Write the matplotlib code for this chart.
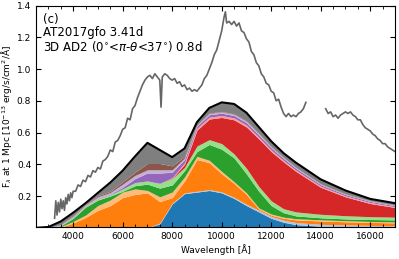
import numpy as np
import matplotlib
matplotlib.use("Agg")
import matplotlib.pyplot as plt
from matplotlib.ticker import MultipleLocator

# model grid [Angstrom]
wl = [2500, 3000, 3500, 4000, 4500, 5000, 5500, 6000, 6500, 7000, 7500, 8000, 8500,
      9000, 9500, 10000, 10500, 11000, 11500, 12000, 12500, 13000, 14000, 15000, 16000, 17000]

# cumulative tops of each stacked component (bottom -> top)
blue_top = [0, 0, 0, 0, 0, 0, 0, 0, 0, 0, 0.025, 0.15, 0.215, 0.225, 0.235, 0.22, 0.185,
            0.14, 0.10, 0.06, 0.035, 0.02, 0.01, 0.006, 0.004, 0.003]
lblue_top = [0, 0, 0, 0, 0, 0, 0, 0, 0, 0, 0.03, 0.155, 0.22, 0.23, 0.24, 0.226, 0.192,
             0.148, 0.11, 0.072, 0.048, 0.033, 0.022, 0.018, 0.015, 0.013]
orange_top = [0, 0, 0.004, 0.03, 0.065, 0.11, 0.14, 0.19, 0.21, 0.22, 0.165, 0.19, 0.295,
              0.43, 0.41, 0.34, 0.28, 0.21, 0.118, 0.08, 0.06, 0.05, 0.043, 0.038, 0.034, 0.031]
lorange_top = [0, 0, 0.007, 0.04, 0.08, 0.14, 0.175, 0.225, 0.245, 0.235, 0.195, 0.225, 0.32,
               0.45, 0.425, 0.355, 0.29, 0.22, 0.125, 0.087, 0.067, 0.057, 0.05, 0.045, 0.04, 0.037]
green_top = [0, 0, 0.012, 0.06, 0.13, 0.175, 0.2, 0.23, 0.265, 0.275, 0.25, 0.27, 0.36,
             0.48, 0.525, 0.495, 0.44, 0.34, 0.23, 0.14, 0.095, 0.075, 0.063, 0.056, 0.052, 0.05]
lgreen_top = [0, 0, 0.014, 0.064, 0.135, 0.182, 0.208, 0.245, 0.285, 0.295, 0.28, 0.31, 0.38,
              0.515, 0.555, 0.53, 0.465, 0.375, 0.26, 0.17, 0.12, 0.1, 0.085, 0.076, 0.07, 0.067]
red_top = [0, 0, 0.014, 0.064, 0.135, 0.182, 0.208, 0.245, 0.285, 0.295, 0.28, 0.313, 0.40,
           0.615, 0.685, 0.695, 0.68, 0.635, 0.56, 0.48, 0.415, 0.355, 0.255, 0.195, 0.153, 0.128]
lred_top = [0, 0, 0.014, 0.064, 0.135, 0.182, 0.208, 0.245, 0.285, 0.295, 0.28, 0.316, 0.41,
            0.627, 0.697, 0.707, 0.692, 0.647, 0.571, 0.49, 0.424, 0.363, 0.262, 0.201, 0.159, 0.133]
purple_top = [0, 0, 0.016, 0.066, 0.138, 0.185, 0.212, 0.255, 0.31, 0.345, 0.345, 0.35, 0.43,
              0.64, 0.712, 0.722, 0.707, 0.662, 0.585, 0.503, 0.436, 0.374, 0.271, 0.209, 0.166, 0.139]
lpurple_top = [0, 0, 0.02, 0.072, 0.144, 0.195, 0.222, 0.275, 0.33, 0.365, 0.365, 0.365, 0.44,
               0.646, 0.72, 0.73, 0.715, 0.67, 0.592, 0.509, 0.441, 0.379, 0.275, 0.212, 0.169, 0.142]
brown_top = [0, 0, 0.022, 0.076, 0.148, 0.202, 0.23, 0.29, 0.35, 0.405, 0.405, 0.39, 0.45,
             0.65, 0.723, 0.733, 0.718, 0.673, 0.595, 0.512, 0.444, 0.381, 0.277, 0.214, 0.171, 0.144]
total = [0, 0.005, 0.04, 0.095, 0.155, 0.22, 0.285, 0.36, 0.45, 0.535, 0.49, 0.445, 0.50,
         0.665, 0.755, 0.79, 0.78, 0.725, 0.635, 0.545, 0.47, 0.41, 0.305, 0.235, 0.182, 0.155]

# observed AT2017gfo spectrum (gap = telluric band)
obs_wl = [3250, 3300, 3350, 3400, 3450, 3500, 3550, 3600, 3650, 3700, 3750, 3800, 3850, 3900,
          3950, 4000, 4100, 4200, 4300, 4400, 4500, 4600, 4700, 4800, 4900, 5000, 5100, 5200,
          5300, 5400, 5500, 5600, 5700, 5800, 5900, 6000, 6100, 6200, 6300, 6400, 6500, 6600,
          6700, 6800, 6900, 7000, 7100, 7200, 7300, 7400, 7500, 7550, 7600, 7700, 7800, 7900,
          8000, 8100, 8200, 8300, 8400, 8500, 8600, 8700, 8800, 8900, 9000, 9100, 9200, 9300,
          9400, 9500, 9600, 9700, 9800, 9900, 10000, 10100, 10150, 10200, 10300, 10400, 10500,
          10600, 10700, 10800, 10900, 11000, 11100, 11200, 11300, 11400, 11500, 11600, 11700,
          11800, 11900, 12000, 12100, 12200, 12300, 12400, 12500, 12600, 12700, 12800, 12900,
          13000, 13100, 13200, 13300, 13400, 13700, 14200, 14300, 14400, 14500, 14600, 14700,
          14800, 14900, 15000, 15100, 15200, 15300, 15400, 15500, 15600, 15700, 15800, 15900,
          16000, 16100, 16200, 16300, 16400, 16500, 16600, 16700, 16800, 16900, 17000]
obs_flux = [0.06, 0.17, 0.08, 0.16, 0.10, 0.18, 0.12, 0.17, 0.11, 0.19, 0.15, 0.21, 0.17, 0.22,
            0.19, 0.23, 0.23, 0.27, 0.26, 0.30, 0.29, 0.33, 0.32, 0.36, 0.35, 0.38, 0.37, 0.42,
            0.43, 0.45, 0.49, 0.48, 0.54, 0.55, 0.58, 0.62, 0.63, 0.69, 0.68, 0.75, 0.77, 0.82,
            0.86, 0.90, 0.93, 0.95, 0.96, 0.94, 0.97, 0.95, 0.93, 0.76, 0.95, 0.97, 0.96, 0.94,
            0.93, 0.94, 0.91, 0.92, 0.89, 0.90, 0.87, 0.88, 0.86, 0.87, 0.86, 0.88, 0.90, 0.94,
            0.96, 1.00, 1.04, 1.09, 1.12, 1.18, 1.24, 1.33, 1.36, 1.29, 1.30, 1.28, 1.30,
            1.27, 1.29, 1.24, 1.23, 1.19, 1.17, 1.11, 1.09, 1.04, 1.02, 0.97, 0.95,
            0.91, 0.90, 0.86, 0.85, 0.80, 0.81, 0.76, 0.72, 0.70, 0.72, 0.70, 0.71,
            0.70, 0.72, 0.73, 0.75, 0.79, np.nan, 0.75, 0.72, 0.73, 0.70, 0.71, 0.69,
            0.71, 0.72, 0.73, 0.72, 0.73, 0.71, 0.70, 0.68, 0.68, 0.65, 0.63, 0.62,
            0.61, 0.59, 0.58, 0.56, 0.55, 0.53, 0.53, 0.51, 0.50, 0.49, 0.48]

layers = [blue_top, lblue_top, orange_top, lorange_top, green_top, lgreen_top,
          red_top, lred_top, purple_top, lpurple_top, brown_top, total]
colors = ["#1f77b4", "#aec7e8", "#ff7f0e", "#ffbb78", "#2ca02c", "#98df8a",
          "#d62728", "#ff9896", "#9467bd", "#c5b0d5", "#8c564b", "#7f7f7f"]

fig = plt.figure(figsize=(3.99, 2.59), dpi=100)
ax = fig.add_axes([36 / 399, 1 - 227 / 259, 359 / 399, 221.5 / 259])

lower = np.zeros(len(wl))
for top, c in zip(layers, colors):
    ax.fill_between(wl, lower, top, color=c, lw=0)
    lower = np.array(top)

ax.plot(wl, total, color="k", lw=1.5)
ax.plot(obs_wl, obs_flux, color="#666666", lw=1.2)

ax.set_xlim(2500, 17000)
ax.set_ylim(0.005, 1.4)
ax.xaxis.set_major_locator(MultipleLocator(2000))
ax.xaxis.set_minor_locator(MultipleLocator(500))
ax.yaxis.set_major_locator(MultipleLocator(0.2))
ax.tick_params(which="both", direction="in", top=True, right=True, labelsize=6.5)
ax.tick_params(which="major", length=3.5)
ax.tick_params(which="minor", length=2)

ax.set_xlabel("Wavelength [Å]", fontsize=6.5, labelpad=2)
ax.set_ylabel(r"F$_\lambda$ at 1 Mpc [10$^{-13}$ erg/s/cm$^2$/Å]", fontsize=6.5, labelpad=2)

ax.text(0.02, 0.935, "(c)", transform=ax.transAxes, fontsize=8.5, va="center")
ax.text(0.02, 0.876, "AT2017gfo 3.41d", transform=ax.transAxes, fontsize=8.5, va="center")
ax.text(0.02, 0.817, r"3D AD2 (0$^{\circ}$<$\pi$-$\theta$<37$^{\circ}$) 0.8d",
        transform=ax.transAxes, fontsize=8.5, va="center")

fig.savefig("out.png", dpi=100)
